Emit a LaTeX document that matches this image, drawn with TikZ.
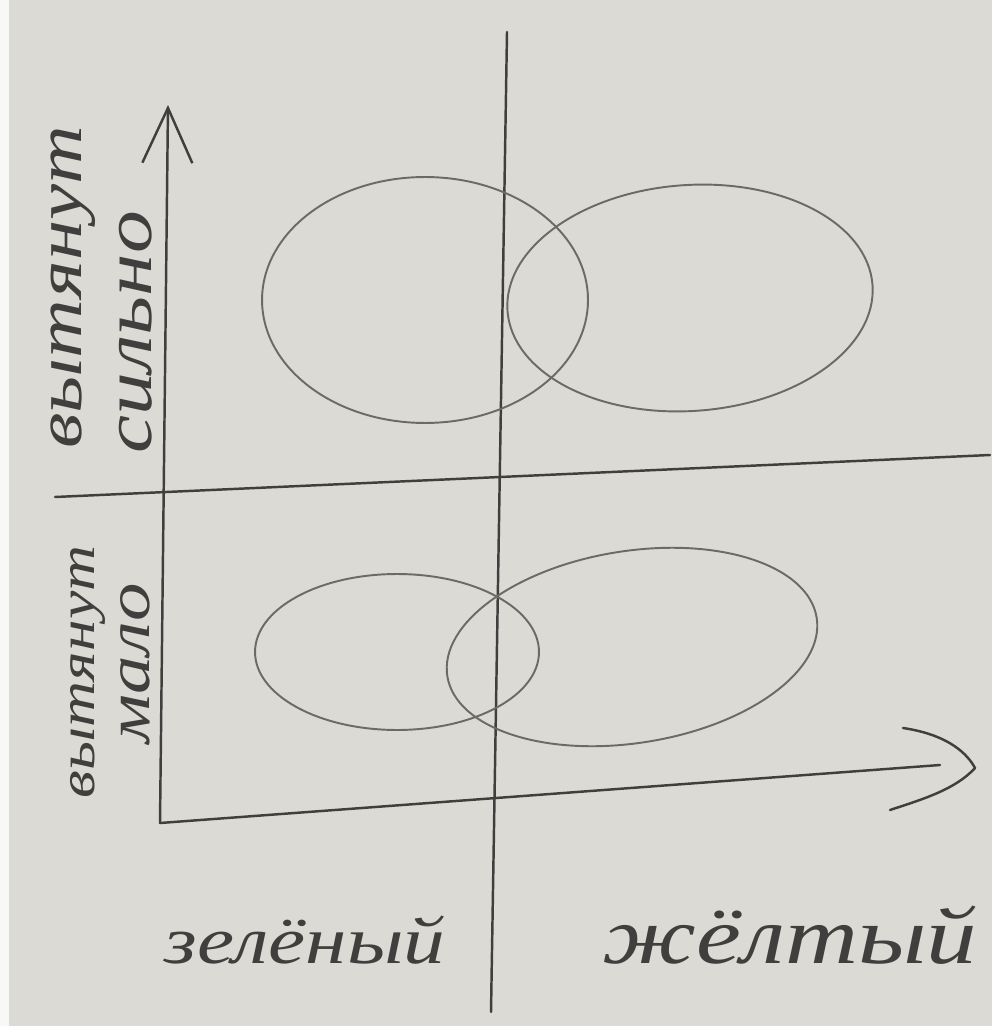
\documentclass[tikz,border=0pt]{standalone}
\usepackage{fontspec}
\setmainfont{Liberation Serif}
\newfontfamily\handfont[FakeStretch=1.25]{Liberation Serif}
\usetikzlibrary{arrows.meta}
\definecolor{paper}{HTML}{DCDAD5}
\definecolor{lead}{HTML}{3F3F3D}
\definecolor{graphite}{HTML}{6A6A67}

\begin{document}
\begin{tikzpicture}[x=0.02cm,y=-0.02cm,line cap=round,line join=round,
    pencil/.style={draw=lead,line width=1.4pt},
    loop/.style={draw=graphite,line width=1.1pt},
    hand/.style={text=lead,inner sep=0pt,
      font=\handfont\itshape\fontsize{#1}{#1}\selectfont}]
  \fill[paper] (0,0) rectangle (992,1026);
  \fill[white!80!paper] (0,0) rectangle (9,1026);

  % axes
  \coordinate (origin) at (160,823);
  \coordinate (ytip) at (168,105);
  \coordinate (xend) at (940,765);
  \coordinate (xtip) at (975,768);
  \draw[pencil,-{Straight Barb[length=1.1cm,width=1.0cm]}] (origin) -- (ytip);
  \draw[pencil] (origin) -- (xend);
  \draw[pencil] (903,728) .. controls (950,735) and (968,755) .. (xtip)
    .. controls (955,790) and (920,800) .. (890,810);

  % dividers
  \coordinate (vtop) at (507,32);
  \coordinate (vbot) at (491,1012);
  \coordinate (hleft) at (55,497);
  \coordinate (hright) at (990,455);
  \draw[pencil] (vtop) -- (vbot);
  \draw[pencil] (hleft) -- (hright);

  % clusters
  \draw[loop] (425,300) ellipse [x radius=3.26cm,y radius=2.46cm];
  \draw[loop,rotate around={4:(690,298)}] (690,298)
    ellipse [x radius=3.66cm,y radius=2.26cm];
  \draw[loop] (397,652) ellipse [x radius=2.84cm,y radius=1.56cm];
  \draw[loop,rotate around={9:(632,647)}] (632,647)
    ellipse [x radius=3.74cm,y radius=1.92cm];

  % labels
  \node[hand=37,rotate=90] (stretch1) at (73,287) {вытянут};
  \node[hand=39,rotate=90] (strong) at (136,332) {сильно};
  \node[hand=29,rotate=90] (stretch2) at (88,672) {вытянут};
  \node[hand=35,rotate=90] (little) at (135,663) {мало};
  \node[hand=38] (green) at (305,940) {зелёный};
  \node[hand=46] (yellow) at (790,935) {жёлтый};
\end{tikzpicture}
\end{document}
